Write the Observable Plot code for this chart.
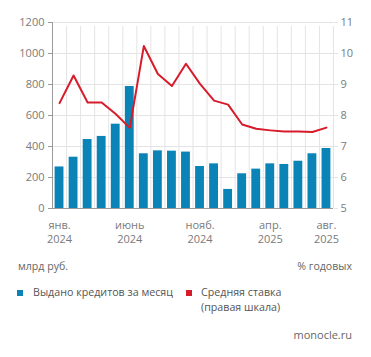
<!DOCTYPE html>
<html><head><meta charset="utf-8">
<script src="https://cdn.jsdelivr.net/npm/d3@7"></script>
<script src="https://cdn.jsdelivr.net/npm/@observablehq/plot@0.6"></script>
<style>
body{margin:0;background:#fff;font-family:"Open Sans",sans-serif;}
#wrap{position:relative;width:371px;height:357px;}
.t{position:absolute;white-space:nowrap;}
.sq{position:absolute;width:6px;height:6px;}
</style></head>
<body><div id="wrap"></div>
<script>
const months = ["янв. 2024","февр. 2024","март 2024","апр. 2024","май 2024","июнь 2024","июль 2024","авг. 2024","сент. 2024","окт. 2024","нояб. 2024","дек. 2024","янв. 2025","февр. 2025","март 2025","апр. 2025","май 2025","июнь 2025","июль 2025","авг. 2025"];
const loans = [268, 331, 445, 465, 544, 787, 353, 372, 370, 364, 271, 288, 123, 224, 254, 288, 284, 305, 353, 387];
const rates = [8.40, 9.29, 8.42, 8.42, 8.05, 7.60, 10.24, 9.34, 8.95, 9.67, 9.02, 8.48, 8.35, 7.71, 7.57, 7.52, 7.48, 7.48, 7.47, 7.61];
const tickIdx = [0, 5, 10, 15, 19];
const leftTicks = [0, 200, 400, 600, 800, 1000, 1200];
const rightTicks = [5, 6, 7, 8, 9, 10, 11];

const data = months.map((m, i) => ({i, m, loan: loans[i], rate: rates[i]}));
const toLeft = r => (r - 5) * 200;

const chart = Plot.plot({
  width: 371, height: 250,
  marginTop: 22, marginBottom: 42, marginLeft: 52, marginRight: 38,
  style: {fontFamily: "Open Sans, sans-serif", fontSize: "11px", color: "#7a7a7a"},
  x: {type: "linear", domain: [0, 20]},
  y: {domain: [0, 1200]},
  marks: [
    Plot.gridY(leftTicks, {stroke: "#e4e4e4", strokeOpacity: 1}),
    Plot.ruleX(d3.range(21), {y1: 0, y2: 1200, stroke: "#e4e4e4", strokeOpacity: 1, insetBottom: -4}),
    Plot.rectY(data, {x1: "i", x2: d => d.i + 1, y: "loan", fill: "#0a84b6", insetLeft: 2.6, insetRight: 2.6}),
    Plot.line(data, {x: d => d.i + 0.5, y: d => toLeft(d.rate), stroke: "#d81b2a", strokeWidth: 2}),
    Plot.axisY({ticks: leftTicks, anchor: "left", tickSize: 4, tickPadding: 4, tickFormat: v => String(v), stroke: "#9a9a9a", fill: "#7a7a7a", label: null}),
    Plot.axisY({ticks: rightTicks.map(toLeft), anchor: "right", tickSize: 4, tickPadding: 3, tickFormat: v => String(v / 200 + 5), stroke: "#e4e4e4", fill: "#7a7a7a", label: null}),
    Plot.axisX({ticks: tickIdx.map(i => i + 0.5), tickFormat: v => months[Math.floor(v)].replace(" ", "\n"), tickSize: 0, tickPadding: 10, lineHeight: 1.3, fill: "#7a7a7a", label: null}),
    Plot.ruleY([0], {stroke: "#9a9a9a"}),
    Plot.ruleX([0], {y1: 0, y2: 1200, stroke: "#9a9a9a"})
  ]
});
const wrap = document.getElementById("wrap");
wrap.appendChild(chart);

const add = (html, css, cls = "t") => {
  const d = document.createElement("div");
  d.className = cls; d.innerHTML = html; Object.assign(d.style, css); wrap.appendChild(d);
};
add("млрд руб.", {left: "18px", top: "259px", fontSize: "10.6px", color: "#666"});
add("% годовых", {right: "19px", top: "259px", fontSize: "10.6px", color: "#666"});
add("", {left: "17px", top: "290px", background: "#0a84b6"}, "sq");
add("Выдано кредитов за месяц", {left: "33px", top: "285px", fontSize: "10.7px", color: "#555"});
add("", {left: "186px", top: "290px", background: "#d81b2a"}, "sq");
add("Средняя ставка<br>(правая шкала)", {left: "201px", top: "285px", fontSize: "10.7px", color: "#555", lineHeight: "15px"});
add("monocle.ru", {right: "19px", top: "327px", fontSize: "11px", color: "#666"});
</script></body></html>
